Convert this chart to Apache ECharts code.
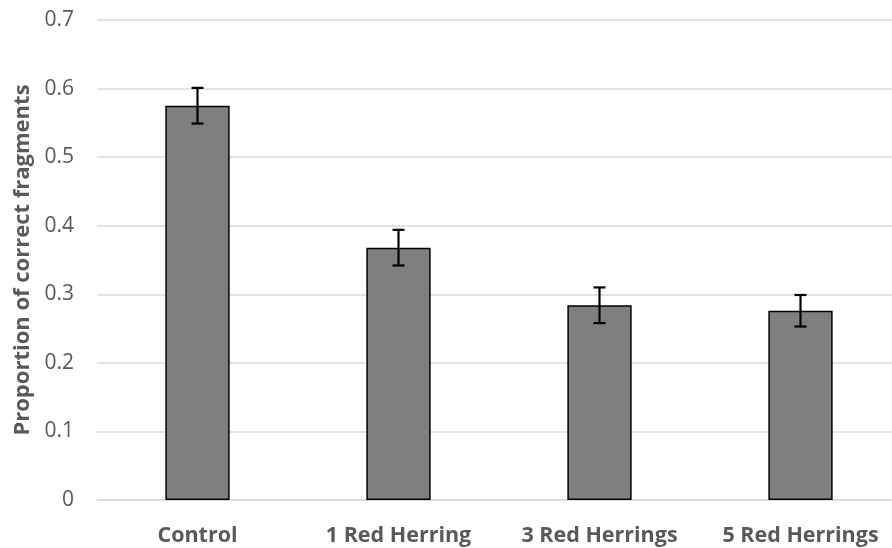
<!DOCTYPE html>
<html><head><meta charset="utf-8">
<script src="https://cdn.jsdelivr.net/npm/echarts@6/dist/echarts.min.js"></script>
<style>html,body{margin:0;padding:0;background:#fff}#c{width:892px;height:548px}</style>
</head><body><div id="c"></div>
<script>
var categories = ['Control', '1 Red Herring', '3 Red Herrings', '5 Red Herrings'];
var values = [0.575, 0.368, 0.284, 0.276];
var errors = [0.026, 0.026, 0.026, 0.023];
var yTicks = [0, 0.1, 0.2, 0.3, 0.4, 0.5, 0.6, 0.7];

var chart = echarts.init(document.getElementById('c'));
var errData = values.map(function (v, i) { return [i, v - errors[i], v + errors[i]]; });
chart.setOption({
  animation: false,
  grid: { left: 97, top: 20, width: 804, height: 480, containLabel: false, outerBoundsMode: 'none' },
  xAxis: {
    type: 'category', data: categories,
    axisLine: { show: true, lineStyle: { color: '#d9d9d9', width: 1.5 } },
    axisTick: { show: false },
    axisLabel: { interval: 0, hideOverlap: false, color: '#595959', fontFamily: 'Open Sans', fontWeight: 'bold', fontSize: 21.5, margin: 25 }
  },
  yAxis: {
    type: 'value', min: 0, max: 0.7, interval: 0.1,
    name: 'Proportion of correct fragments', nameLocation: 'middle', nameGap: 63, nameRotate: 90,
    nameTextStyle: { color: '#595959', fontFamily: 'Open Sans', fontWeight: 'bold', fontSize: 22 },
    axisLine: { show: false }, axisTick: { show: false },
    splitLine: { lineStyle: { color: '#d9d9d9', width: 1.5 } },
    axisLabel: { color: '#595959', fontFamily: 'Open Sans', fontSize: 21, margin: 23,
      formatter: function (v) { return String(Math.round(v * 10) / 10); } }
  },
  series: [{
    type: 'bar', data: values, barWidth: '32%',
    itemStyle: { color: '#7f7f7f', borderColor: '#000', borderWidth: 1.5 }
  }, {
    type: 'custom', data: errData, z: 10,
    renderItem: function (params, api) {
      var x = api.value(0);
      var lo = api.coord([x, api.value(1)]);
      var hi = api.coord([x, api.value(2)]);
      var hw = 6;
      var st = { stroke: '#000', lineWidth: 2.2 };
      return { type: 'group', children: [
        { type: 'line', shape: { x1: lo[0], y1: lo[1], x2: hi[0], y2: hi[1] }, style: st },
        { type: 'line', shape: { x1: lo[0] - hw, y1: lo[1], x2: lo[0] + hw, y2: lo[1] }, style: st },
        { type: 'line', shape: { x1: hi[0] - hw, y1: hi[1], x2: hi[0] + hw, y2: hi[1] }, style: st }
      ] };
    }
  }]
});
</script></body></html>
